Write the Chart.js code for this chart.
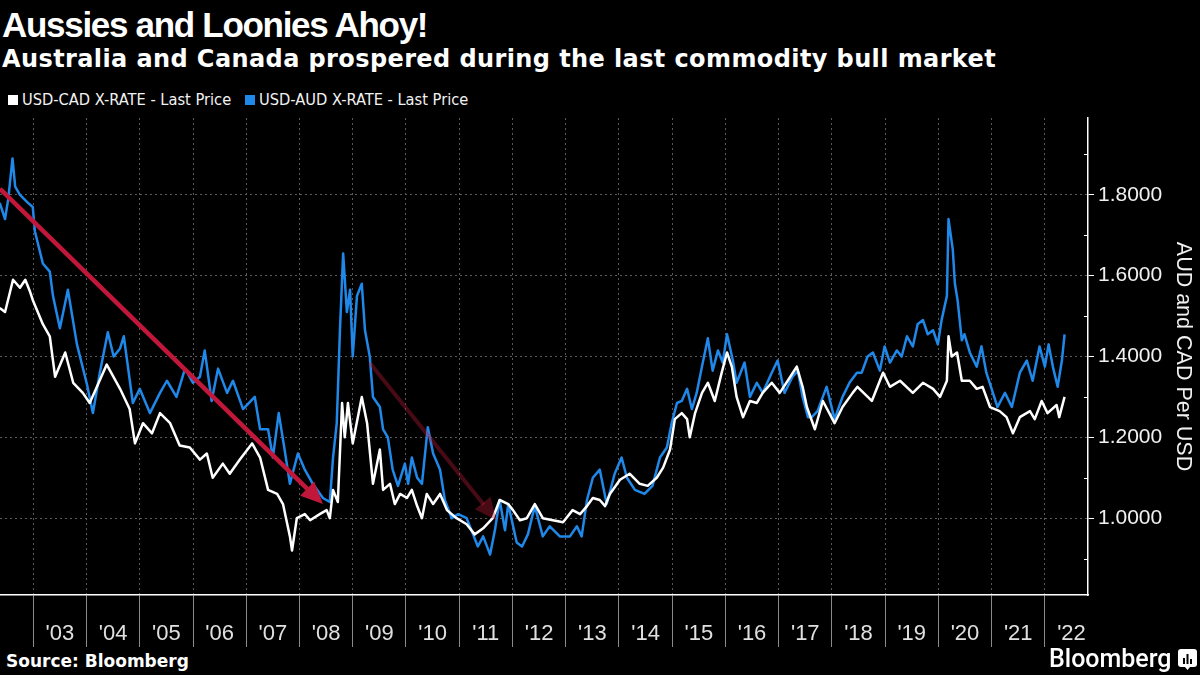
<!DOCTYPE html>
<html>

<head>
    <title>Aussies and Loonies Ahoy!</title>

    <script src="https://cdn.jsdelivr.net/npm/chart.js"></script>

    <style>
        body {
            margin: 0;
            width: 1200px;
            height: 675px;
            background: #000;
            color: #fff;
            position: relative;
            overflow: hidden;
        }

        .txt {
            position: absolute;
            white-space: nowrap;
        }

        #title {
            left: 2px;
            top: 5px;
            font: bold 35px "Liberation Sans", Arial, sans-serif;
            letter-spacing: -1.3px;
            line-height: 40px;
        }

        #subtitle {
            left: 2px;
            top: 44px;
            font: bold 24px "DejaVu Sans", sans-serif;
            letter-spacing: 0.4px;
            line-height: 30px;
        }

        .legend {
            top: 90px;
            font: 16.3px "Liberation Sans Narrow", "DejaVu Sans Condensed", sans-serif;
            line-height: 20px;
            color: #f2f2f2;
        }

        .legend i {
            display: inline-block;
            width: 10px;
            height: 10px;
            margin-right: 4px;
            vertical-align: 0px;
        }

        #source {
            left: 6px;
            top: 650px;
            font: bold 17px "DejaVu Sans", sans-serif;
            line-height: 22px;
        }

        #logo {
            left: 1049px;
            top: 645px;
            font: 500 25px "Roboto", "Liberation Sans", sans-serif;
            line-height: 28px;
        }

        #chartBox {
            position: absolute;
            left: 0;
            top: 110px;
        }
    </style>
</head>

<body>
    <div class="txt" id="title">Aussies and Loonies Ahoy!</div>
    <div class="txt" id="subtitle">Australia and Canada prospered during the last commodity bull market</div>
    <div class="txt legend" style="left:8px"><i style="background:#fff"></i>USD-CAD X-RATE - Last Price</div>
    <div class="txt legend" style="left:245px"><i style="background:#1f88e8"></i>USD-AUD X-RATE - Last Price</div>

    <canvas id="chartBox" width="1200" height="540"></canvas>

    <div class="txt" id="source">Source: Bloomberg</div>
    <div class="txt" id="logo">Bloomberg</div>
    <svg style="position:absolute;left:1178px;top:649px" width="19" height="22" viewBox="0 0 19 22">
        <path d="M3 0h13a3 3 0 0 1 3 3v12a3 3 0 0 1-3 3h-4l-2.5 3l-2.5-3h-4a3 3 0 0 1-3-3v-12a3 3 0 0 1 3-3z" fill="#fff" />
        <rect x="5" y="9" width="2" height="6" fill="#000" />
        <rect x="8.5" y="5" width="2" height="10" fill="#000" />
        <rect x="12" y="10" width="2" height="5" fill="#000" />
    </svg>

    <script>
        // ------------- Data -------------
        // USD-CAD, decimal year / price
        const cadYears = [
            2002.37, 2002.47, 2002.62, 2002.75, 2002.85, 2002.94, 2002.99, 2003.18, 2003.31, 2003.41,
            2003.60, 2003.75, 2003.93, 2004.06, 2004.38, 2004.63, 2004.81, 2004.91, 2005.06, 2005.23,
            2005.38, 2005.57, 2005.75, 2005.94, 2006.13, 2006.26, 2006.37, 2006.56, 2006.69, 2006.88,
            2007.11, 2007.26, 2007.41, 2007.58, 2007.69, 2007.82, 2007.86, 2007.95, 2008.10, 2008.20,
            2008.38, 2008.51, 2008.57, 2008.63, 2008.72, 2008.80, 2008.85, 2008.91, 2009.00, 2009.17,
            2009.27, 2009.38, 2009.51, 2009.57, 2009.70, 2009.79, 2009.89, 2010.02, 2010.11, 2010.21,
            2010.30, 2010.39, 2010.51, 2010.64, 2010.77, 2010.95, 2011.14, 2011.29, 2011.45, 2011.63,
            2011.76, 2011.92, 2012.01, 2012.14, 2012.27, 2012.42, 2012.57, 2012.76, 2012.95, 2013.13,
            2013.27, 2013.40, 2013.51, 2013.64, 2013.74, 2013.83, 2014.02, 2014.20, 2014.39, 2014.54,
            2014.71, 2014.83, 2014.96, 2015.05, 2015.18, 2015.28, 2015.33, 2015.43, 2015.56, 2015.67,
            2015.80, 2015.93, 2016.03, 2016.12, 2016.21, 2016.33, 2016.46, 2016.59, 2016.70, 2016.87,
            2017.02, 2017.17, 2017.34, 2017.45, 2017.53, 2017.68, 2017.83, 2018.05, 2018.20, 2018.39,
            2018.48, 2018.75, 2018.96, 2019.09, 2019.28, 2019.52, 2019.71, 2019.90, 2020.03, 2020.16,
            2020.19, 2020.25, 2020.35, 2020.44, 2020.59, 2020.72, 2020.83, 2020.97, 2021.15, 2021.28,
            2021.40, 2021.53, 2021.72, 2021.81, 2021.94, 2022.05, 2022.22, 2022.27, 2022.37
        ];
        const cadValues = [
            1.52, 1.51, 1.59, 1.57, 1.59, 1.56, 1.54, 1.48, 1.45, 1.35,
            1.41, 1.335, 1.31, 1.285, 1.38, 1.32, 1.27, 1.185, 1.235, 1.21,
            1.26, 1.235, 1.18, 1.175, 1.145, 1.16, 1.10, 1.135, 1.11, 1.145,
            1.185, 1.15, 1.07, 1.06, 1.035, 0.955, 0.92, 1.00, 1.01, 0.995,
            1.01, 1.02, 1.00, 1.07, 1.04, 1.285, 1.20, 1.285, 1.185, 1.30,
            1.235, 1.085, 1.17, 1.07, 1.085, 1.035, 1.06, 1.05, 1.07, 1.03,
            1.00, 1.06, 1.035, 1.06, 1.02, 1.00, 0.985, 0.96, 0.975, 1.00,
            1.045, 1.035, 1.02, 0.995, 1.00, 1.035, 1.00, 0.995, 0.99, 1.02,
            1.01, 1.03, 1.05, 1.045, 1.03, 1.06, 1.095, 1.11, 1.085, 1.08,
            1.10, 1.125, 1.17, 1.245, 1.26, 1.245, 1.20, 1.26, 1.31, 1.335,
            1.29, 1.36, 1.41, 1.375, 1.30, 1.25, 1.29, 1.285, 1.31, 1.335,
            1.31, 1.34, 1.375, 1.325, 1.275, 1.22, 1.29, 1.235, 1.275, 1.31,
            1.325, 1.29, 1.36, 1.325, 1.34, 1.31, 1.335, 1.32, 1.30, 1.34,
            1.45, 1.40, 1.41, 1.34, 1.34, 1.32, 1.325, 1.275, 1.265, 1.25,
            1.21, 1.25, 1.265, 1.245, 1.29, 1.26, 1.28, 1.25, 1.30
        ];

        // USD-AUD, decimal year / price
        const audYears = [
            2002.37, 2002.47, 2002.53, 2002.61, 2002.66, 2002.75, 2002.90, 2002.99, 2003.03, 2003.18,
            2003.31, 2003.37, 2003.50, 2003.65, 2003.82, 2004.01, 2004.12, 2004.25, 2004.40, 2004.51,
            2004.63, 2004.70, 2004.87, 2005.00, 2005.19, 2005.38, 2005.51, 2005.69, 2005.85, 2006.00,
            2006.13, 2006.22, 2006.35, 2006.47, 2006.64, 2006.75, 2006.94, 2007.16, 2007.26, 2007.41,
            2007.50, 2007.61, 2007.72, 2007.82, 2007.97, 2008.10, 2008.25, 2008.44, 2008.57, 2008.63,
            2008.70, 2008.76, 2008.82, 2008.89, 2008.95, 2009.00, 2009.08, 2009.17, 2009.23, 2009.32,
            2009.38, 2009.51, 2009.57, 2009.66, 2009.75, 2009.85, 2009.98, 2010.04, 2010.11, 2010.21,
            2010.30, 2010.41, 2010.51, 2010.64, 2010.73, 2010.86, 2010.98, 2011.14, 2011.26, 2011.35,
            2011.45, 2011.58, 2011.67, 2011.76, 2011.86, 2011.92, 2012.08, 2012.18, 2012.29, 2012.42,
            2012.57, 2012.70, 2012.89, 2013.08, 2013.21, 2013.30, 2013.40, 2013.51, 2013.64, 2013.77,
            2013.92, 2014.05, 2014.15, 2014.30, 2014.48, 2014.63, 2014.77, 2014.90, 2014.99, 2015.09,
            2015.18, 2015.28, 2015.37, 2015.46, 2015.56, 2015.67, 2015.76, 2015.86, 2015.95, 2016.03,
            2016.14, 2016.21, 2016.36, 2016.46, 2016.59, 2016.70, 2016.87, 2016.98, 2017.11, 2017.26,
            2017.36, 2017.45, 2017.55, 2017.62, 2017.73, 2017.90, 2018.05, 2018.20, 2018.33, 2018.47,
            2018.56, 2018.67, 2018.77, 2018.90, 2018.99, 2019.09, 2019.22, 2019.31, 2019.41, 2019.52,
            2019.61, 2019.71, 2019.80, 2019.90, 2019.99, 2020.06, 2020.16, 2020.19, 2020.27, 2020.31,
            2020.36, 2020.44, 2020.49, 2020.59, 2020.72, 2020.81, 2020.90, 2021.00, 2021.11, 2021.25,
            2021.38, 2021.53, 2021.66, 2021.77, 2021.90, 2022.00, 2022.07, 2022.15, 2022.24, 2022.32,
            2022.37
        ];
        const audValues = [
            1.78, 1.74, 1.79, 1.89, 1.82, 1.80, 1.78, 1.77, 1.71, 1.63,
            1.61, 1.55, 1.47, 1.565, 1.43, 1.33, 1.26, 1.36, 1.46, 1.40,
            1.42, 1.45, 1.285, 1.32, 1.26, 1.31, 1.34, 1.30, 1.37, 1.335,
            1.35, 1.415, 1.29, 1.37, 1.31, 1.34, 1.27, 1.30, 1.22, 1.22,
            1.15, 1.26, 1.17, 1.085, 1.16, 1.12, 1.085, 1.05, 1.04, 1.15,
            1.235, 1.465, 1.655, 1.51, 1.565, 1.40, 1.55, 1.58, 1.465, 1.40,
            1.30, 1.275, 1.22, 1.20, 1.12, 1.08, 1.135, 1.085, 1.15, 1.10,
            1.085, 1.225, 1.16, 1.12, 1.045, 1.00, 1.01, 1.00, 0.96, 0.93,
            0.955, 0.91, 0.97, 1.045, 0.97, 1.035, 0.94, 0.93, 0.96, 1.03,
            0.955, 0.98, 0.955, 0.955, 0.98, 0.955, 1.045, 1.10, 1.12, 1.035,
            1.11, 1.15, 1.10, 1.07, 1.06, 1.08, 1.15, 1.175, 1.235, 1.285,
            1.29, 1.32, 1.27, 1.31, 1.375, 1.445, 1.365, 1.415, 1.385, 1.455,
            1.39, 1.335, 1.385, 1.30, 1.335, 1.31, 1.36, 1.39, 1.31, 1.35,
            1.365, 1.30, 1.25, 1.25, 1.265, 1.325, 1.245, 1.30, 1.335, 1.36,
            1.36, 1.40, 1.41, 1.365, 1.425, 1.385, 1.415, 1.40, 1.45, 1.425,
            1.48, 1.49, 1.455, 1.465, 1.43, 1.49, 1.55, 1.74, 1.665, 1.58,
            1.54, 1.44, 1.455, 1.41, 1.375, 1.425, 1.36, 1.32, 1.275, 1.31,
            1.275, 1.36, 1.39, 1.34, 1.425, 1.375, 1.43, 1.375, 1.325, 1.39,
            1.455
        ];

        // Axes
        const xMin = 2002.375;
        const xMax = 2022.81;
        const yMin = 0.81;
        const yMax = 1.99;
        const yearTicks = [2003, 2004, 2005, 2006, 2007, 2008, 2009, 2010, 2011, 2012,
            2013, 2014, 2015, 2016, 2017, 2018, 2019, 2020, 2021, 2022];
        const yearLabels = ["'03", "'04", "'05", "'06", "'07", "'08", "'09", "'10", "'11", "'12",
            "'13", "'14", "'15", "'16", "'17", "'18", "'19", "'20", "'21", "'22"];
        const valueTicks = [0.9, 1.0, 1.1, 1.2, 1.3, 1.4, 1.5, 1.6, 1.7, 1.8, 1.9];
        const valueLabels = ['', '1.0000', '', '1.2000', '', '1.4000', '', '1.6000', '', '1.8000', ''];

        // Arrows drawn on the chart (year, price)
        const arrowBullStart = [2002.375, 1.815];
        const arrowBullEnd = [2008.44, 1.035];
        const arrowSecondStart = [2009.32, 1.384];
        const arrowSecondEnd = [2011.70, 0.995];

        const BLUE = '#1f88e8';
        const AXIS_FONT = '"Liberation Sans", Arial, sans-serif';

        // ------------- Plugins -------------
        function drawArrow(ctx, chart, from, to, color, width) {
            const x = chart.scales.x, y = chart.scales.y;
            const x1 = x.getPixelForValue(from[0]), y1 = y.getPixelForValue(from[1]);
            const x2 = x.getPixelForValue(to[0]), y2 = y.getPixelForValue(to[1]);
            const ang = Math.atan2(y2 - y1, x2 - x1);
            const headLen = 22, headW = 10;
            const bx = x2 - headLen * Math.cos(ang), by = y2 - headLen * Math.sin(ang);

            ctx.save();
            ctx.strokeStyle = color;
            ctx.fillStyle = color;
            ctx.lineWidth = width;
            ctx.beginPath();
            ctx.moveTo(x1, y1);
            ctx.lineTo(bx + 2 * Math.cos(ang), by + 2 * Math.sin(ang));
            ctx.stroke();
            ctx.beginPath();
            ctx.moveTo(x2, y2);
            ctx.lineTo(bx + headW * Math.sin(ang), by - headW * Math.cos(ang));
            ctx.lineTo(bx - headW * Math.sin(ang), by + headW * Math.cos(ang));
            ctx.closePath();
            ctx.fill();
            ctx.restore();
        }

        const arrowPlugin = {
            id: 'arrows',
            afterDatasetsDraw(chart) {
                const ctx = chart.ctx;
                ctx.save();
                ctx.beginPath();
                ctx.rect(chart.chartArea.left, chart.chartArea.top,
                    chart.chartArea.right - chart.chartArea.left, chart.chartArea.bottom - chart.chartArea.top);
                ctx.clip();
                drawArrow(ctx, chart, arrowSecondStart, arrowSecondEnd, 'rgba(190,25,55,0.38)', 4);
                drawArrow(ctx, chart, arrowBullStart, arrowBullEnd, '#c0173a', 4.5);
                ctx.restore();
            }
        };

        // small inward ticks for the unlabelled values
        const minorTickPlugin = {
            id: 'minorTicks',
            afterDraw(chart) {
                const ctx = chart.ctx;
                const ys = chart.scales.y;
                const right = chart.chartArea.right;
                ctx.save();
                ctx.strokeStyle = '#fff';
                ctx.lineWidth = 1;
                valueTicks.forEach((v, i) => {
                    if (valueLabels[i] !== '') return;
                    const py = Math.round(ys.getPixelForValue(v)) + 0.5;
                    ctx.beginPath();
                    ctx.moveTo(right - 4, py);
                    ctx.lineTo(right, py);
                    ctx.stroke();
                });
                ctx.restore();
            }
        };

        // ------------- Chart -------------
        const ctx = document.getElementById('chartBox').getContext('2d');
        const chart = new Chart(ctx, {
            type: 'line',
            data: {
                datasets: [{
                    label: 'USD-CAD X-RATE - Last Price',
                    data: cadYears.map((yr, i) => ({ x: yr, y: cadValues[i] })),
                    borderColor: '#ffffff',
                    borderWidth: 2.5,
                    pointRadius: 0,
                    tension: 0,
                    borderJoinStyle: 'round'
                }, {
                    label: 'USD-AUD X-RATE - Last Price',
                    data: audYears.map((yr, i) => ({ x: yr, y: audValues[i] })),
                    borderColor: BLUE,
                    borderWidth: 2.5,
                    pointRadius: 0,
                    tension: 0,
                    borderJoinStyle: 'round'
                }]
            },
            options: {
                responsive: false,
                animation: false,
                devicePixelRatio: 1,
                layout: { padding: { top: 8, left: 0, right: 0, bottom: 0 } },
                scales: {
                    x: {
                        type: 'linear',
                        min: xMin,
                        max: xMax,
                        afterBuildTicks: s => { s.ticks = yearTicks.map(v => ({ value: v })); },
                        afterFit: s => {
                            s.height = 55;
                            s.paddingLeft = 0;
                            s.paddingRight = 0;
                        },
                        ticks: {
                            autoSkip: false,
                            maxRotation: 0,
                            callback: (v, i) => yearLabels[i],
                            labelOffset: 26.6,
                            padding: -26,
                            color: '#e0e0e0',
                            font: { family: AXIS_FONT, size: 22 }
                        },
                        grid: {
                            color: '#5a5a5a',
                            lineWidth: 1,
                            tickLength: 52,
                            tickColor: '#8a8a8a',
                            tickWidth: 1
                        },
                        border: { color: '#ffffff', width: 1.5, dash: [2, 3] }
                    },
                    y: {
                        type: 'linear',
                        position: 'right',
                        min: yMin,
                        max: yMax,
                        afterBuildTicks: s => { s.ticks = valueTicks.map(v => ({ value: v })); },
                        afterFit: s => {
                            s.width = 112;
                            s.paddingTop = 0;
                            s.paddingBottom = 0;
                        },
                        ticks: {
                            autoSkip: false,
                            callback: (v, i) => valueLabels[i],
                            padding: 4,
                            color: '#f0f0f0',
                            font: { family: AXIS_FONT, size: 21 }
                        },
                        grid: {
                            color: c => valueLabels[c.index] ? '#5a5a5a' : 'rgba(0,0,0,0)',
                            tickColor: c => valueLabels[c.index] ? '#ffffff' : 'rgba(0,0,0,0)',
                            lineWidth: 1,
                            tickLength: 6
                        },
                        border: { color: '#ffffff', width: 1.5, dash: [2, 3] },
                        title: {
                            display: true,
                            text: 'AUD and CAD Per USD',
                            color: '#f0f0f0',
                            font: { family: AXIS_FONT, size: 21.5 },
                            padding: { top: 4, bottom: 0 }
                        }
                    }
                },
                plugins: {
                    legend: { display: false },
                    tooltip: { enabled: false }
                }
            },
            plugins: [arrowPlugin, minorTickPlugin]
        });
    </script>
</body>

</html>
